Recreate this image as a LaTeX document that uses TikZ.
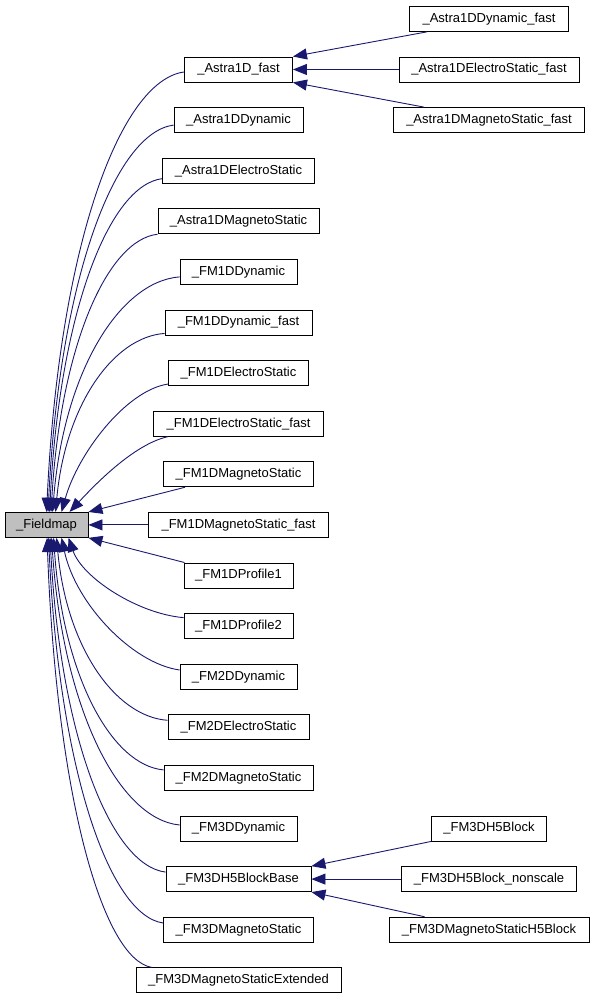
\documentclass[tikz,border=0pt]{standalone}
\usepackage{fontspec}
\setmainfont{Liberation Sans}
\usetikzlibrary{arrows.meta,calc}
\definecolor{edgeblue}{HTML}{191970}
\definecolor{fmgray}{HTML}{BFBFBF}
\newcommand\fmlink[6]{\draw[edge] let \p1=(#1), \p2=(#2) in (\p1) .. controls ({\x1+#3*(\x2-\x1)},{\y1+#4*(\y2-\y1)}) and ({\x2-#5*(\x2-\x1)},{\y2-#6*(\y2-\y1)}) .. (\p2);}
\begin{document}
\begin{tikzpicture}[x=1pt,y=1pt,
  cls/.style={draw=black, line width=0.9pt, minimum height=25pt, inner sep=0pt, font=\fontsize{13pt}{15pt}\selectfont, fill=white},
  edge/.style={draw=edgeblue, line width=0.9pt, {Triangle[length=14pt,width=11pt,fill=edgeblue]}-}]
\useasboundingbox (0,0) rectangle (595,1000);
\node[cls, fill=fmgray, minimum width=83pt] (fm) at (46.5,475.1) {\_Fieldmap};
% middle column
\node[cls, minimum width=108pt] (a1) at (238.5,930.5) {\_Astra1D\_fast};
\node[cls, minimum width=129pt] (a2) at (238.5,879.9) {\_Astra1DDynamic};
\node[cls, minimum width=152pt] (a3) at (238.5,829.3) {\_Astra1DElectroStatic};
\node[cls, minimum width=161pt] (a4) at (238.5,778.7) {\_Astra1DMagnetoStatic};
\node[cls, minimum width=117pt] (f1) at (238.5,728.1) {\_FM1DDynamic};
\node[cls, minimum width=147pt] (f2) at (238.5,677.5) {\_FM1DDynamic\_fast};
\node[cls, minimum width=140pt] (f3) at (238.5,626.9) {\_FM1DElectroStatic};
\node[cls, minimum width=170pt] (f4) at (238.5,576.3) {\_FM1DElectroStatic\_fast};
\node[cls, minimum width=150pt] (f5) at (238.5,525.7) {\_FM1DMagnetoStatic};
\node[cls, minimum width=180pt] (f6) at (238.5,475.1) {\_FM1DMagnetoStatic\_fast};
\node[cls, minimum width=109pt] (f7) at (238.5,424.5) {\_FM1DProfile1};
\node[cls, minimum width=109pt] (f8) at (238.5,373.9) {\_FM1DProfile2};
\node[cls, minimum width=117pt] (f9) at (238.5,323.3) {\_FM2DDynamic};
\node[cls, minimum width=141pt] (f10) at (238.5,272.7) {\_FM2DElectroStatic};
\node[cls, minimum width=149pt] (f11) at (238.5,222.1) {\_FM2DMagnetoStatic};
\node[cls, minimum width=117pt] (g1) at (238.5,171.5) {\_FM3DDynamic};
\node[cls, minimum width=145pt] (g2) at (238.5,120.9) {\_FM3DH5BlockBase};
\node[cls, minimum width=150pt] (g3) at (238.5,70.3) {\_FM3DMagnetoStatic};
\node[cls, minimum width=205pt] (g4) at (238.5,19.7) {\_FM3DMagnetoStaticExtended};
% right column
\node[cls, minimum width=159pt] (r1) at (489,981.1) {\_Astra1DDynamic\_fast};
\node[cls, minimum width=180pt] (r2) at (489,930.5) {\_Astra1DElectroStatic\_fast};
\node[cls, minimum width=191pt] (r3) at (489,879.9) {\_Astra1DMagnetoStatic\_fast};
\node[cls, minimum width=115pt] (h1) at (489,171.5) {\_FM3DH5Block};
\node[cls, minimum width=175pt] (h2) at (489,120.9) {\_FM3DH5Block\_nonscale};
\node[cls, minimum width=200pt] (h3) at (489,70.3) {\_FM3DMagnetoStaticH5Block};
% edges to Fieldmap, upper
\fmlink{[xshift=42pt]fm.north west}{[yshift=-2.5pt]a1.west}{0.09}{0.6}{0.47}{0.02}
\fmlink{[xshift=43.5pt]fm.north west}{[yshift=-5pt]a2.west}{0.09}{0.6}{0.47}{0.02}
\fmlink{[xshift=45pt]fm.north west}{[yshift=-8pt]a3.west}{0.09}{0.6}{0.47}{0.02}
\fmlink{[xshift=46.5pt]fm.north west}{a4.south west}{0.09}{0.6}{0.47}{0.02}
\fmlink{[xshift=48pt]fm.north west}{[yshift=-5pt]f1.west}{0.09}{0.6}{0.47}{0.02}
\fmlink{[xshift=51pt]fm.north west}{[yshift=2pt]f2.south west}{0.09}{0.6}{0.47}{0.02}
\fmlink{[xshift=57pt]fm.north west}{[yshift=2pt]f3.south west}{0.15}{0.45}{0.4}{0.05}
\fmlink{[xshift=65pt]fm.north west}{[xshift=15pt]f4.south west}{0.25}{0.35}{0.35}{0.1}
\draw[edge] (fm.north east) -- ([xshift=22pt]f5.south west);
\draw[edge] (fm.east) -- (f6.west);
% lower
\draw[edge] (fm.south east) -- ([xshift=1pt]f7.north west);
\fmlink{[xshift=64pt]fm.south west}{[yshift=-4.5pt]f8.north west}{0.12}{0.5}{0.4}{0.05}
\fmlink{[xshift=57pt]fm.south west}{[yshift=6.7pt]f9.west}{0.12}{0.5}{0.4}{0.05}
\fmlink{[xshift=52pt]fm.south west}{[yshift=7pt]f10.west}{0.09}{0.6}{0.47}{0.02}
\fmlink{[xshift=49pt]fm.south west}{[yshift=8pt]f11.west}{0.09}{0.6}{0.47}{0.02}
\fmlink{[xshift=47pt]fm.south west}{[yshift=3.5pt]g1.west}{0.09}{0.6}{0.47}{0.02}
\fmlink{[xshift=45.5pt]fm.south west}{[yshift=7pt]g2.west}{0.09}{0.6}{0.47}{0.02}
\fmlink{[xshift=44pt]fm.south west}{[yshift=6.7pt]g3.west}{0.09}{0.6}{0.47}{0.02}
\fmlink{[xshift=42.5pt]fm.south west}{[xshift=16pt]g4.north west}{0.09}{0.6}{0.47}{0.02}
% right edges
\draw[edge] (a1.north east) -- ([xshift=18pt]r1.south west);
\draw[edge] (a1.east) -- (r2.west);
\draw[edge] (a1.south east) -- ([xshift=31pt]r3.north west);
\draw[edge] (g2.north east) -- (h1.south west);
\draw[edge] (g2.east) -- (h2.west);
\draw[edge] (g2.south east) -- ([xshift=36pt]h3.north west);
\end{tikzpicture}
\end{document}
